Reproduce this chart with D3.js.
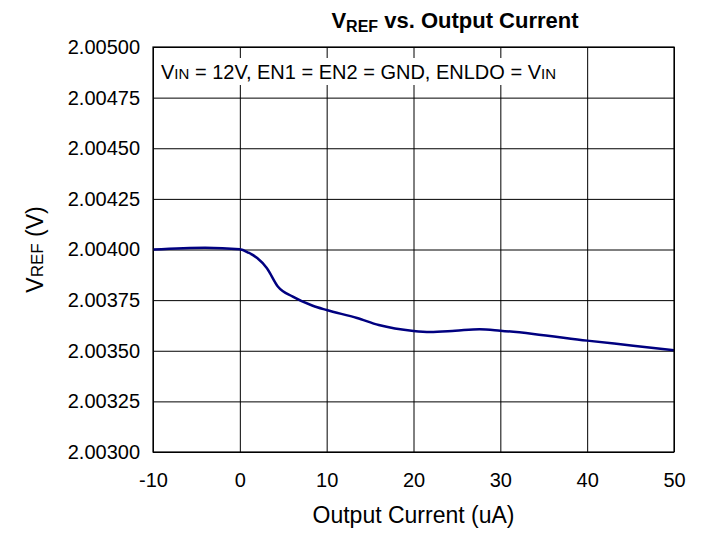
<!DOCTYPE html>
<html>
<head>
<meta charset="utf-8">
<script src="https://cdn.jsdelivr.net/npm/d3@7"></script>
<style>
  body { margin: 0; background: #fff; }
  svg { font-family: "Liberation Sans", Arial, sans-serif; }
</style>
</head>
<body>
<svg id="chart" width="706" height="536"></svg>
<script>
// data
const currentUA = [-10, -4, 0, 1, 2, 3.1, 4.4, 6.1, 8.4, 10, 13.5, 16, 20, 21.9, 24.8, 27.6, 30, 33.8, 40, 45.3, 50];
const vref = [2.004000, 2.004009, 2.004001, 2.003984, 2.003958, 2.003909, 2.003816, 2.003767, 2.003722, 2.003701,
              2.003662, 2.003627, 2.003598, 2.003593, 2.003599, 2.003606, 2.003599, 2.003583, 2.003550, 2.003525, 2.003502];
const xTicks = [-10, 0, 10, 20, 30, 40, 50];
const yTicks = [2.003, 2.00325, 2.0035, 2.00375, 2.004, 2.00425, 2.0045, 2.00475, 2.005];

const margin = { top: 47, right: 32, bottom: 84, left: 153 };
const width = 706 - margin.left - margin.right;
const height = 536 - margin.top - margin.bottom;

const svg = d3.select("#chart");
const g = svg.append("g").attr("transform", `translate(${margin.left},${margin.top})`);

const x = d3.scaleLinear().domain([-10, 50]).range([0, width]);
const y = d3.scaleLinear().domain([2.003, 2.005]).range([height, 0]);

// grid
g.append("g")
  .attr("transform", `translate(0,${height})`)
  .call(d3.axisBottom(x).tickValues(xTicks).tickSize(-height).tickFormat(""))
  .call(a => a.select(".domain").remove())
  .selectAll("line").attr("stroke", "#000").attr("stroke-width", 1);
g.append("g")
  .call(d3.axisLeft(y).tickValues(yTicks).tickSize(-width).tickFormat(""))
  .call(a => a.select(".domain").remove())
  .selectAll("line").attr("stroke", "#000").attr("stroke-width", 1);

// tick labels (plain hyphen for negatives, like the original)
g.append("g")
  .attr("transform", `translate(0,${height})`)
  .call(d3.axisBottom(x).tickValues(xTicks).tickSize(0).tickPadding(21).tickFormat(d => String(d)))
  .call(a => a.select(".domain").remove())
  .selectAll("text").attr("font-size", 20).attr("fill", "#000")
  .attr("font-family", "Liberation Sans, Arial, sans-serif");
g.append("g")
  .call(d3.axisLeft(y).tickValues(yTicks).tickSize(0).tickPadding(13).tickFormat(d => d.toFixed(5)))
  .call(a => a.select(".domain").remove())
  .selectAll("text").attr("font-size", 20).attr("fill", "#000")
  .attr("font-family", "Liberation Sans, Arial, sans-serif");

// note box (white background hides grid behind text)
g.append("rect").attr("x", 1).attr("y", 11).attr("width", 428).attr("height", 27).attr("fill", "#fff");
const note = g.append("text").attr("x", 8).attr("y", 32).attr("font-size", 20).attr("fill", "#000");
note.append("tspan").text("V");
note.append("tspan").attr("font-size", 15).text("IN");
note.append("tspan").text(" = 12V, EN1 = EN2 = GND, ENLDO = V");
note.append("tspan").attr("font-size", 15).text("IN");

// curve
g.append("path")
  .datum(currentUA.map((c, i) => [c, vref[i]]))
  .attr("fill", "none")
  .attr("stroke", "#000080")
  .attr("stroke-width", 2.5)
  .attr("d", d3.line().x(d => x(d[0])).y(d => y(d[1])).curve(d3.curveMonotoneX));

// frame
g.append("rect").attr("width", width).attr("height", height)
  .attr("fill", "none").attr("stroke", "#000").attr("stroke-width", 1.2);

// title
const title = svg.append("text")
  .attr("x", 455).attr("y", 28)
  .attr("text-anchor", "middle").attr("font-size", 22).attr("font-weight", "bold");
title.append("tspan").text("V");
title.append("tspan").attr("font-size", 16).attr("dy", 4).text("REF");
title.append("tspan").attr("dy", -4).text(" vs. Output Current");

// axis titles
svg.append("text")
  .attr("x", margin.left + width / 2).attr("y", 523)
  .attr("text-anchor", "middle").attr("font-size", 23)
  .text("Output Current (uA)");

const yl = svg.append("text")
  .attr("transform", `translate(43,${margin.top + height / 2}) rotate(-90)`)
  .attr("text-anchor", "middle").attr("font-size", 23);
yl.append("tspan").text("V");
yl.append("tspan").attr("font-size", 17).text("REF");
yl.append("tspan").text("  (V)");
</script>
</body>
</html>
